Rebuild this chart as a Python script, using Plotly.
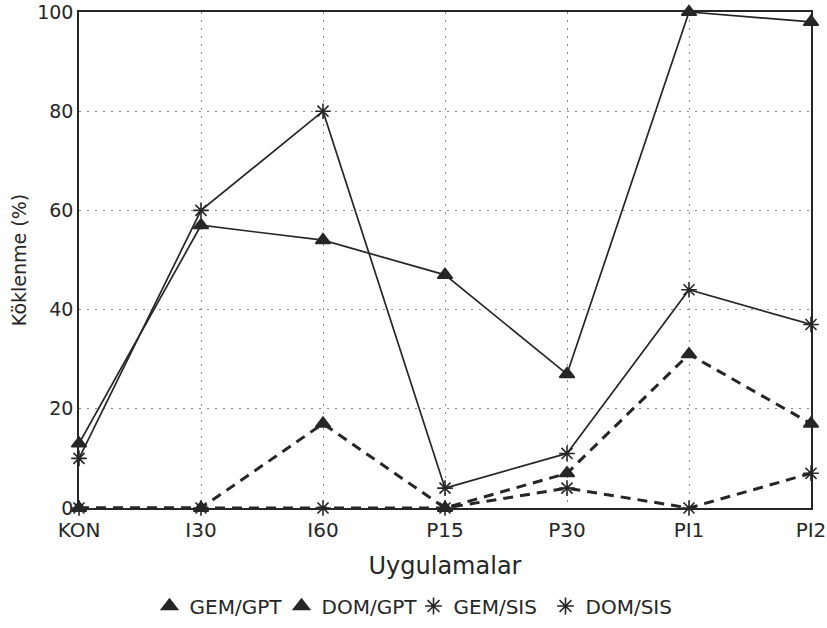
import plotly.graph_objects as go

categories = ["KON", "I30", "I60", "P15", "P30", "PI1", "PI2"]
gem_gpt = [13, 57, 54, 47, 27, 100, 98]
dom_gpt = [0, 0, 17, 0, 7, 31, 17]
gem_sis = [10, 60, 80, 4, 11, 44, 37]
dom_sis = [0, 0, 0, 0, 4, 0, 7]
y_ticks = [0, 20, 40, 60, 80, 100]

FONT = "DejaVu Sans, Arial, sans-serif"
INK = "#262626"
GRID = "#8a8a8a"

series = [
    ("GEM/GPT", gem_gpt, "solid", "triangle-up", 1.7),
    ("DOM/GPT", dom_gpt, "10px,7px", "triangle-up", 3),
    ("GEM/SIS", gem_sis, "solid", "asterisk-open", 1.7),
    ("DOM/SIS", dom_sis, "10px,7px", "asterisk-open", 3),
]

fig = go.Figure()
for name, vals, dash, sym, w in series:
    fig.add_trace(go.Scatter(
        x=categories, y=vals, mode="lines+markers", name=name,
        line=dict(color=INK, width=w, dash=dash),
        marker=dict(symbol=sym, size=13, color=INK, line=dict(color=INK, width=1.6)),
        cliponaxis=False, showlegend=False,
    ))
for name, vals, dash, sym, w in series:
    fig.add_trace(go.Scatter(
        x=[None], y=[None], mode="markers", name=name,
        marker=dict(symbol=sym, size=14, color=INK, line=dict(color=INK, width=1.6)),
        showlegend=True,
    ))

fig.update_layout(
    width=827, height=628,
    margin=dict(l=79, r=16, t=12, b=120, autoexpand=False),
    paper_bgcolor="white", plot_bgcolor="white",
    font=dict(family=FONT, size=20, color=INK),
    xaxis=dict(
        type="category", categoryorder="array", categoryarray=categories,
        range=[0, 6], showgrid=True, gridcolor=GRID, griddash="2px,6px", gridwidth=1,
        showline=True, linecolor=INK, linewidth=1.6, mirror=True,
        ticks="", ticklabelstandoff=3, automargin=False, ticklabeloverflow="allow",
        title=dict(text="Uygulamalar", standoff=16),
    ),
    yaxis=dict(
        range=[0, 100], tickvals=y_ticks, showgrid=True, gridcolor=GRID,
        griddash="2px,6px", gridwidth=1, zeroline=False,
        showline=True, linecolor=INK, linewidth=1.6, mirror=True,
        ticks="", ticklabelstandoff=0, automargin=False, ticklabeloverflow="allow",
        tickfont=dict(size=19),
        title=dict(text="Köklenme (%)", standoff=5, font=dict(size=19)),
    ),
    legend=dict(orientation="h", xref="container", yref="container",
                x=0.5, xanchor="center", y=0.035, yanchor="middle",
                itemwidth=30, entrywidth=87, entrywidthmode="pixels"),
)

fig.write_html("out.html", config={"displayModeBar": False},
               post_script="document.body.style.margin='0px';")
